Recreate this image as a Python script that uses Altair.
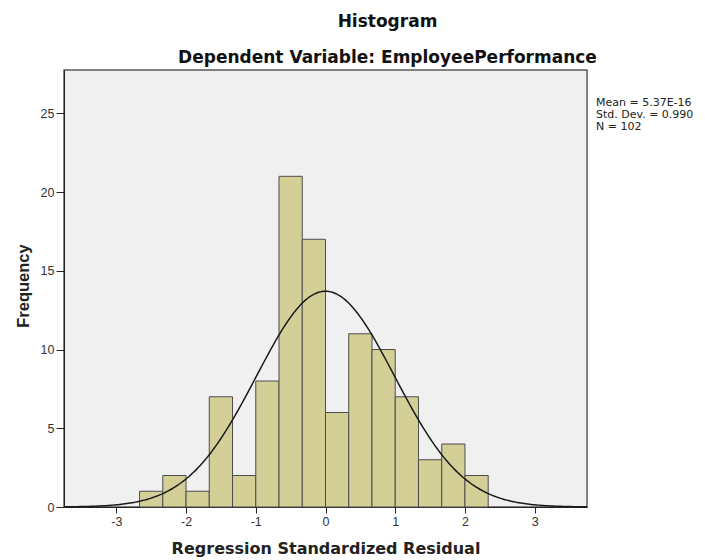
import altair as alt
import pandas as pd

# ---- data ----
BIN_START = [-8/3, -7/3, -6/3, -5/3, -4/3, -3/3, -2/3, -1/3, 0/3, 1/3, 2/3, 3/3, 4/3, 5/3, 6/3]
BIN_END = [-7/3, -6/3, -5/3, -4/3, -3/3, -2/3, -1/3, 0/3, 1/3, 2/3, 3/3, 4/3, 5/3, 6/3, 7/3]
COUNTS = [1, 2, 1, 7, 2, 8, 21, 17, 6, 11, 10, 7, 3, 4, 2]
X_TICKS = [-3, -2, -1, 0, 1, 2, 3]
Y_TICKS = [0, 5, 10, 15, 20, 25]
MEAN = 5.37e-16
SD = 0.990
N = 102
BIN_WIDTH = 1/3
STAT_LINES = ["Mean = 5.37E-16", "Std. Dev. = 0.990", "N = 102"]
TITLE = "Histogram"
SUBTITLE = "Dependent Variable: EmployeePerformance"
X_TITLE = "Regression Standardized Residual"
Y_TITLE = "Frequency"

W, H = 523, 437
X_DOMAIN = [-3.75, 3.75]
Y_DOMAIN = [0, 27.75]

bars_df = pd.DataFrame({"start": BIN_START, "end": BIN_END, "count": COUNTS})
stats_df = pd.DataFrame({"t": ["\n".join(STAT_LINES)]})

xscale = alt.Scale(domain=X_DOMAIN, nice=False, zero=False)
yscale = alt.Scale(domain=Y_DOMAIN, nice=False, zero=False)

x_axis = alt.Axis(
    values=X_TICKS, title=X_TITLE, grid=False, tickSize=6, tickColor="#222",
    domainColor="#222", labelPadding=2, labelFont="Liberation Sans",
    labelFontSize=12.5, labelColor="#333", titleFont="DejaVu Sans",
    titleFontSize=16, titleFontWeight="bold", titleColor="#222",
    titleBaseline="alphabetic", titleY=46, labelExpr="'' + datum.value",
)
y_axis = alt.Axis(
    values=Y_TICKS, title=Y_TITLE, grid=False, tickSize=8, tickColor="#222",
    domainColor="#222", labelPadding=2, labelFont="Liberation Sans",
    labelFontSize=12.5, labelColor="#333", titleFont="Liberation Sans",
    titleFontSize=16.5, titleFontWeight="bold", titleColor="#222",
    titleBaseline="alphabetic", titleX=-36, titleY=215.5, titleAngle=270,
    titleAlign="center", labelExpr="'' + datum.value",
)

bars = alt.Chart(bars_df).mark_rect(
    fill="#D3CF96", stroke="#4d4d4d", strokeWidth=1
).encode(
    x=alt.X("start:Q", scale=xscale, axis=x_axis),
    x2="end:Q",
    y=alt.Y("count:Q", scale=yscale, axis=y_axis),
    y2=alt.datum(0),
)

curve = alt.Chart(alt.sequence(-3.75, 3.76, 0.025, as_="x")).transform_calculate(
    y=f"{N}*{BIN_WIDTH}*exp(-0.5*pow((datum.x-({MEAN}))/{SD},2))/({SD}*sqrt(2*PI))"
).mark_line(color="#1a1a1a", strokeWidth=1.5, clip=True).encode(
    x=alt.X("x:Q", scale=xscale),
    y=alt.Y("y:Q", scale=yscale),
)

stats = alt.Chart(stats_df).mark_text(
    align="left", baseline="alphabetic", lineBreak="\n", lineHeight=12,
    font="DejaVu Sans", fontSize=11, color="#222",
).encode(
    x=alt.value(532), y=alt.value(35.5), text="t:N"
)

chart = alt.layer(bars, curve, stats).properties(
    width=W, height=H,
    title=alt.TitleParams(
        text=TITLE, subtitle=SUBTITLE, anchor="middle", dx=62,
        font="DejaVu Sans", fontSize=17, fontWeight="bold", color="#111",
        subtitleFont="DejaVu Sans", subtitleFontSize=17,
        subtitleFontWeight="bold", subtitleColor="#111",
        subtitlePadding=19, offset=3,
    ),
    autosize=alt.AutoSizeParams(type="none"),
    padding={"left": 56, "top": 62, "right": 110, "bottom": 52},
    background="white",
).configure_view(fill="#F0F0F0", stroke="#5a5a5a", strokeWidth=1.5)

chart.save("out.html", embed_options={"renderer": "svg", "actions": False})
